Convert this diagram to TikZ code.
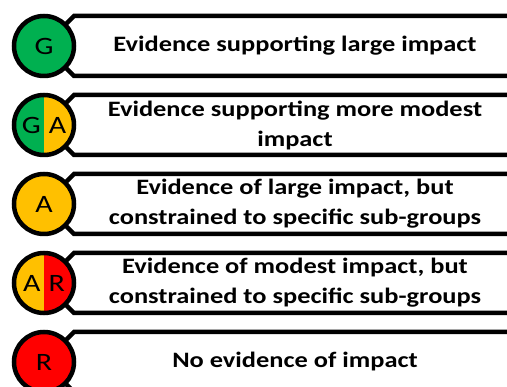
\documentclass[tikz,border=0pt]{standalone}
\usepackage{fontspec}
\setmainfont{Carlito}
\newfontfamily\widefont{Carlito}[FakeStretch=1.2]
\usetikzlibrary{positioning}

\definecolor{ragG}{RGB}{0,176,80}
\definecolor{ragA}{RGB}{255,192,0}
\definecolor{ragR}{RGB}{255,0,0}

% tab behind each rating dot, running off the right edge
\newcommand{\evtab}[1]{%
  \draw[tab] (540,#1-30) -- (74,#1-30) -- (50,#1-6) -- (50,#1+6) -- (74,#1+30) -- (540,#1+30);}

\begin{document}
\begin{tikzpicture}[
  x = 1pt, y = -1pt,
  tab/.style  = {line width=4.5pt, fill=white, line join=miter},
  dot/.style  = {circle, draw, line width=4.5pt, minimum size=60pt, inner sep=0pt,
                 font=\widefont\fontsize{25}{25}\selectfont},
  half/.style = {path picture={\fill[#1] (path picture bounding box.south west)
                 rectangle (path picture bounding box.north);}},
  txt/.style  = {align=center, font=\widefont\bfseries\fontsize{22}{30}\selectfont},
]
  \useasboundingbox (0,0) rectangle (507,387);
  \clip (0,0) rectangle (507,387);

  \evtab{46}
  \evtab{125}
  \evtab{204}
  \evtab{283}
  \evtab{362}

  \node[dot, fill=ragG] (g)  at (44,46)  {G};
  \node[dot, fill=ragA, half=ragG] (ga) at (44,125) {G\hspace{8pt}A};
  \node[dot, fill=ragA] (a)  at (44,204) {A};
  \node[dot, fill=ragR, half=ragA] (ar) at (44,283) {A\hspace{8pt}R};
  \node[dot, fill=ragR] (r)  at (44,362) {R};

  \node[txt] (tg)  at (295,46)  {Evidence supporting large impact};
  \node[txt] (tga) at (295,125) {Evidence supporting more modest\\impact};
  \node[txt] (ta)  at (295,204) {Evidence of large impact, but\\constrained to specific sub-groups};
  \node[txt] (tar) at (295,283) {Evidence of modest impact, but\\constrained to specific sub-groups};
  \node[txt] (tr)  at (295,362) {No evidence of impact};
\end{tikzpicture}
\end{document}
